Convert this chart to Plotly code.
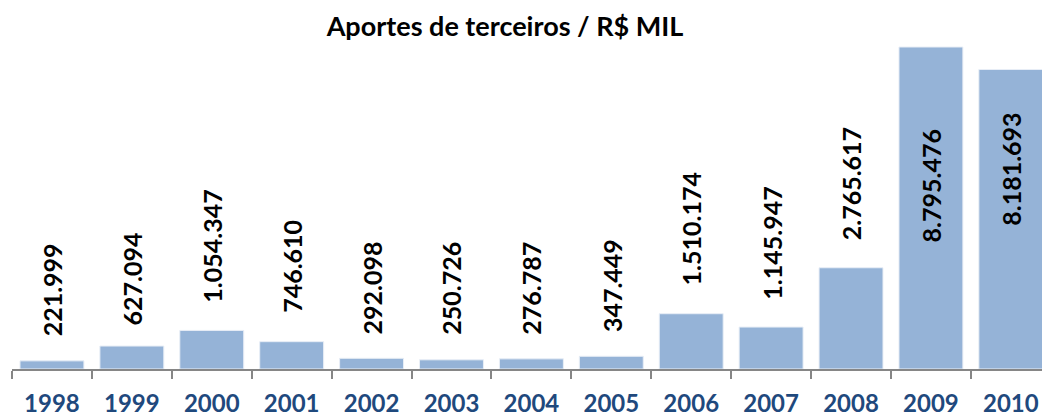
import plotly.graph_objects as go

# Data
years = ["1998", "1999", "2000", "2001", "2002", "2003", "2004", "2005",
         "2006", "2007", "2008", "2009", "2010"]
values = [221999, 627094, 1054347, 746610, 292098, 250726, 276787, 347449,
          1510174, 1145947, 2765617, 8795476, 8181693]
title_text = "Aportes de terceiros / R$ MIL"

# Styling
BAR_COLOR = "#95B3D7"
TICK_COLOR = "#1F497D"
FONT = "Lato, Calibri, Carlito, sans-serif"
# label placement (pixels): positive = above bar top (label bottom), negative = inside (label top)
label_shift = [23, 19, 26, 27, 22, 23, 22, 22, 26, 25, 25, -80, -41]


def fmt(v):
    return f"{v:,}".replace(",", ".")


fig = go.Figure()
fig.add_trace(go.Bar(
    x=years, y=values,
    marker=dict(color=BAR_COLOR, line=dict(color="#E8EEF6", width=1)),
    hoverinfo="x+y",
))

for i, (v, s) in enumerate(zip(values, label_shift)):
    fig.add_annotation(
        x=i, y=v, xref="x", yref="y", text="<b>" + fmt(v) + "</b>",
        showarrow=False, textangle=-90,
        yanchor="bottom" if s >= 0 else "top",
        yshift=s,
        font=dict(family=FONT, size=25, color="#000000"),
    )

fig.update_layout(
    width=1042, height=419,
    margin=dict(l=12, r=0, t=40, b=50),
    paper_bgcolor="white", plot_bgcolor="white",
    bargap=0.2,
    showlegend=False,
    title=dict(text="<b>" + title_text + "</b>", x=505 / 1042, xanchor="center",
               xref="container",
               y=1 - 27 / 419, yanchor="middle",
               font=dict(family=FONT, size=27, color="#000000")),
    xaxis=dict(
        type="category", range=[-0.5, 12.39],
        showline=True, linecolor="#868686", linewidth=2,
        ticks="outside", tickson="boundaries", ticklen=8, tickcolor="#868686",
        tickwidth=2, ticklabelstandoff=12, automargin=False,
        tickfont=dict(family=FONT, size=24, color=TICK_COLOR, weight="bold"),
        showgrid=False, zeroline=False,
    ),
    yaxis=dict(
        range=[0, 8986600], showticklabels=False, showline=False,
        showgrid=False, zeroline=False, ticks="",
    ),
)

fig.write_html("out.html", config={"displayModeBar": False},
               post_script="document.body.style.margin='0';")
